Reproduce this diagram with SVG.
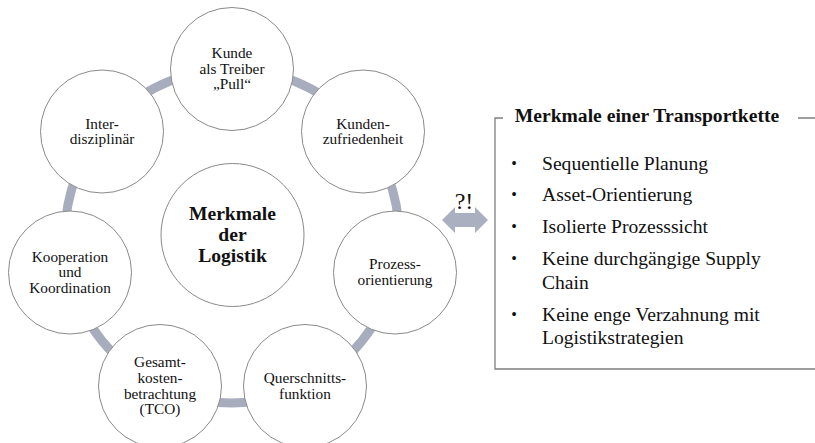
<svg xmlns="http://www.w3.org/2000/svg" width="815" height="443" viewBox="0 0 815 443">
<style>
.n{fill:#fff;stroke:#8a8a8a;stroke-width:1}
text{font-family:'Liberation Serif','Times New Roman',serif;fill:#111}
.t{font-size:15.3px;text-anchor:middle}
.c{font-size:19.6px;font-weight:bold;text-anchor:middle}
.l{font-size:19.6px}
.b{font-size:16px;text-anchor:middle}
</style>
<rect width="815" height="443" fill="#fff"/>
<g id="connectors">
<circle cx="232" cy="236" r="167" fill="none" stroke="#a7adbd" stroke-width="9"/>
<polygon points="442,220 455,207 455,213 475,213 475,207 488,220 475,233 475,227 455,227 455,233" fill="#aab0c0"/>
<text x="464" y="209" text-anchor="middle" font-size="24">?!</text>
</g>
<g id="center">
<circle class="n" cx="232.5" cy="235" r="71.5"/>
<text class="c"><tspan x="232.5" y="220">Merkmale</tspan><tspan x="232.5" y="241">der</tspan><tspan x="232.5" y="262">Logistik</tspan></text>
</g>
<g id="kunde">
<circle class="n" cx="232" cy="69" r="61.5"/>
<text class="t"><tspan x="232" y="57.5">Kunde</tspan><tspan x="232" y="73.5">als Treiber</tspan><tspan x="232" y="89">„Pull“</tspan></text>
</g>
<g id="zufriedenheit">
<circle class="n" cx="363" cy="131.5" r="61.5"/>
<text class="t"><tspan x="363" y="128.5">Kunden-</tspan><tspan x="363" y="144">zufriedenheit</tspan></text>
</g>
<g id="prozess">
<circle class="n" cx="395" cy="272.5" r="61.5"/>
<text class="t"><tspan x="395" y="269">Prozess-</tspan><tspan x="395" y="284.5">orientierung</tspan></text>
</g>
<g id="querschnitt">
<circle class="n" cx="305" cy="386" r="61.5"/>
<text class="t"><tspan x="305" y="383">Querschnitts-</tspan><tspan x="305" y="398.5">funktion</tspan></text>
</g>
<g id="gesamtkosten">
<circle class="n" cx="160" cy="386" r="61.5"/>
<text class="t"><tspan x="160" y="366.5">Gesamt-</tspan><tspan x="160" y="382.5">kosten-</tspan><tspan x="160" y="398.5">betrachtung</tspan><tspan x="160" y="414">(TCO)</tspan></text>
</g>
<g id="kooperation">
<circle class="n" cx="70" cy="272.5" r="61.5"/>
<text class="t"><tspan x="70" y="261.5">Kooperation</tspan><tspan x="70" y="277">und</tspan><tspan x="70" y="292.5">Koordination</tspan></text>
</g>
<g id="interdisziplinaer">
<circle class="n" cx="102" cy="131.5" r="61.5"/>
<text class="t"><tspan x="102" y="128.5">Inter-</tspan><tspan x="102" y="144">disziplinär</tspan></text>
</g>
<g id="transportkette">
<path d="M503,118 H495 V369 H815 M798,118 H815" fill="none" stroke="#7f7f7f" stroke-width="1.3"/>
<text x="647" y="121.5" class="c">Merkmale einer Transportkette</text>
<text class="b"><tspan x="514" y="169">•</tspan><tspan x="514" y="200">•</tspan><tspan x="514" y="232">•</tspan><tspan x="514" y="264">•</tspan><tspan x="514" y="320">•</tspan></text>
<text class="l"><tspan x="542" y="170">Sequentielle Planung</tspan><tspan x="542" y="201">Asset-Orientierung</tspan><tspan x="542" y="233">Isolierte Prozesssicht</tspan><tspan x="542" y="265">Keine durchgängige Supply</tspan><tspan x="542" y="289">Chain</tspan><tspan x="542" y="321">Keine enge Verzahnung mit</tspan><tspan x="542" y="344">Logistikstrategien</tspan></text>
</g>
</svg>
